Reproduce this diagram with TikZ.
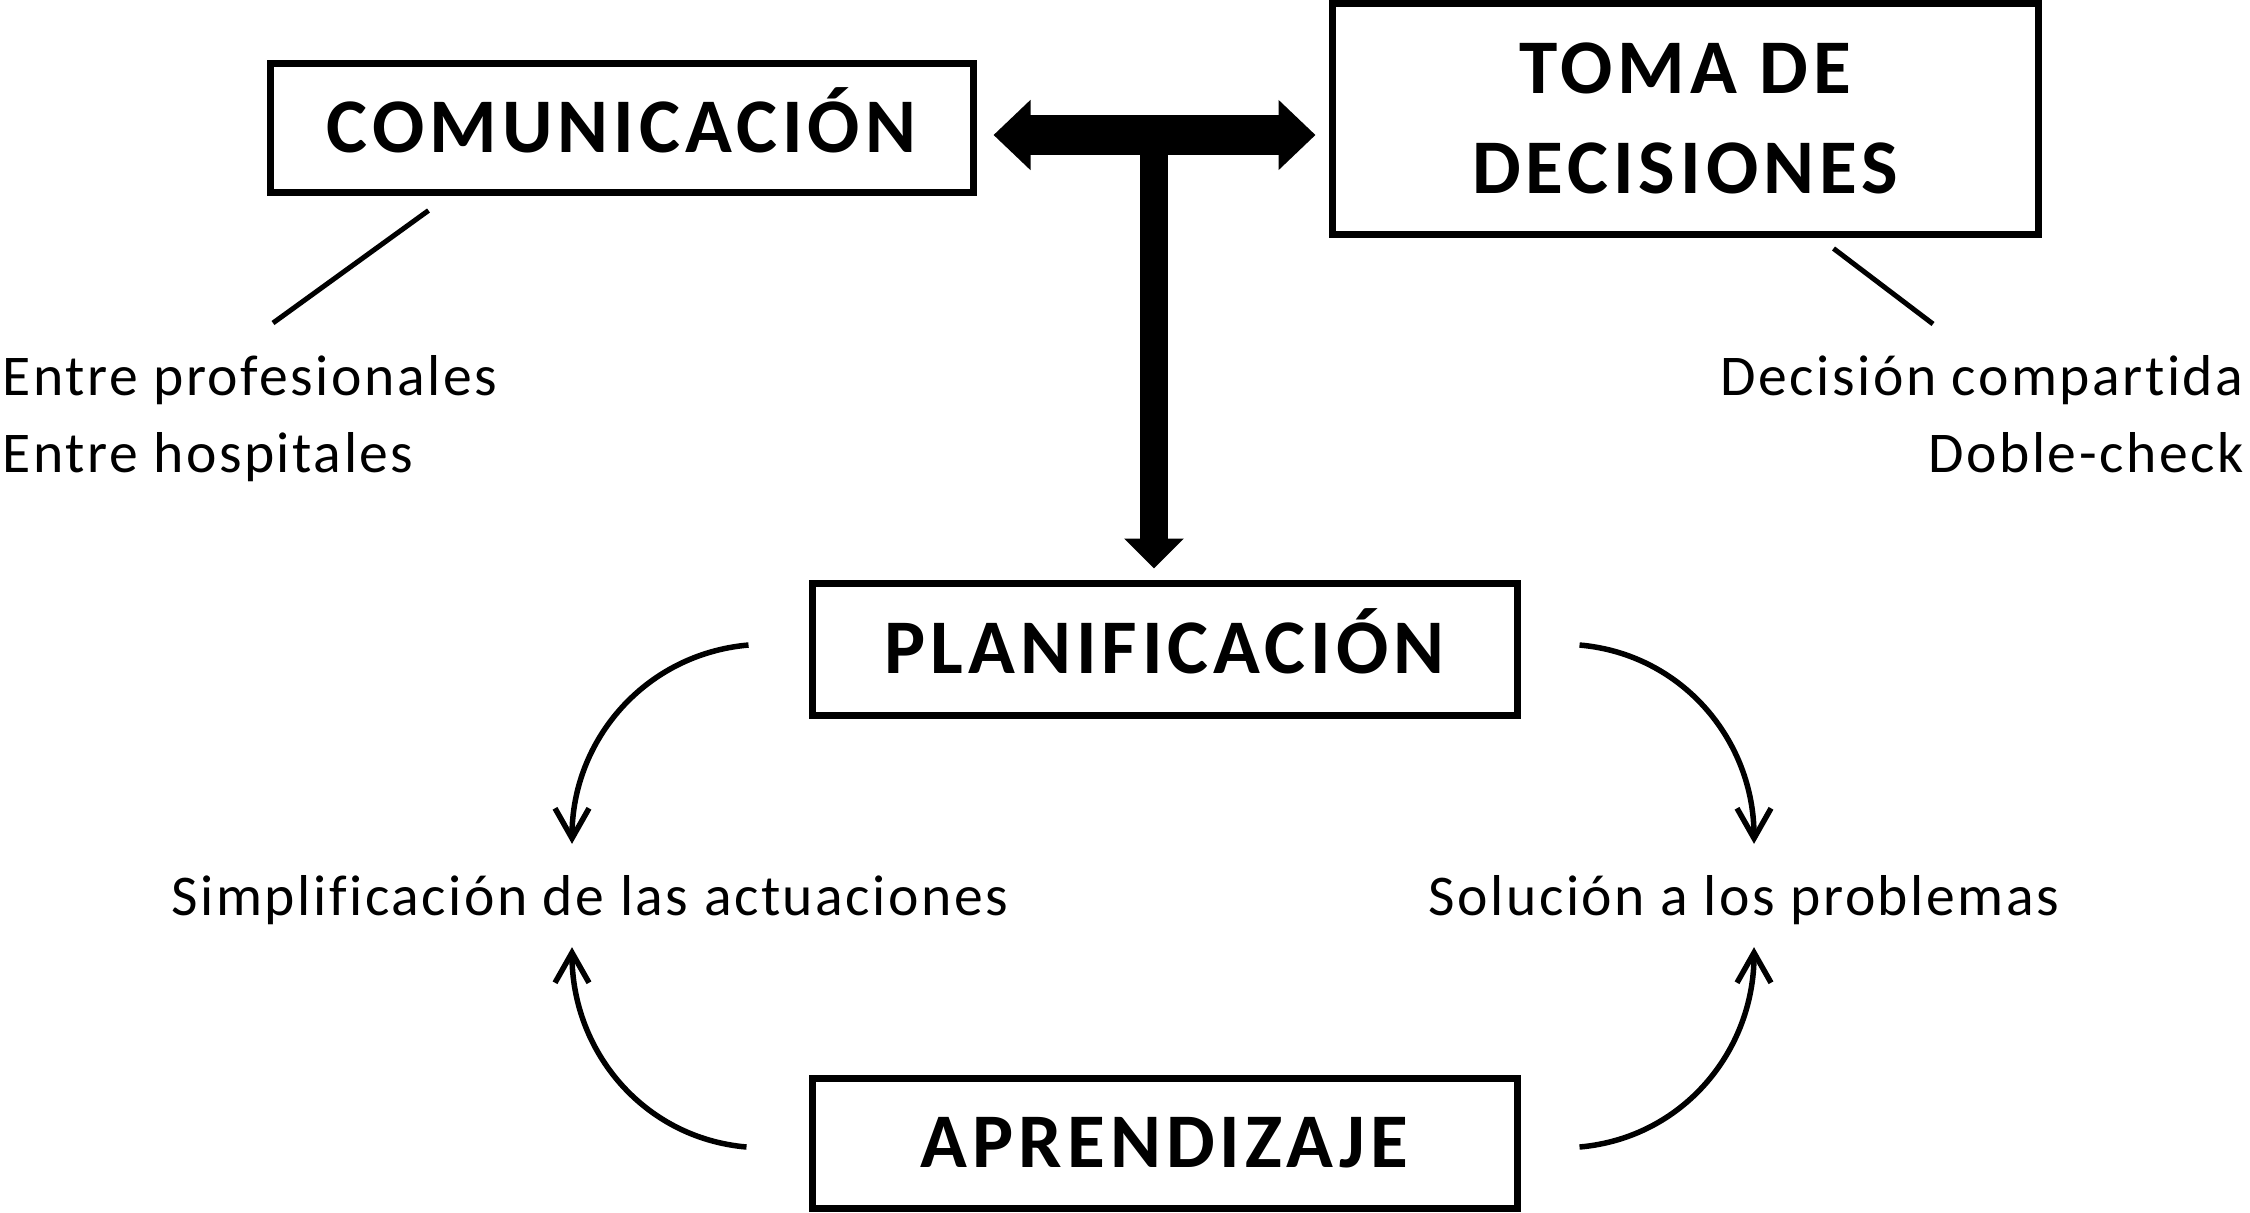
\documentclass[tikz,border=0pt]{standalone}
\usepackage{fontspec}
\setmainfont{Carlito}[LetterSpace=4.4, Ligatures=NoCommon]
\usetikzlibrary{arrows.meta, calc}
\tikzset{
  every picture/.style={line width=0.05cm},
  box/.style={draw, line width=0.07cm, align=center, inner sep=0pt, font=\fontsize{22}{28.5}\selectfont\bfseries\addfontfeatures{LetterSpace=6.5}},
  oneline/.style={text height=0.49cm, text depth=0pt},
  note/.style={inner sep=0pt, font=\fontsize{16.4}{21.9}\selectfont},
  bigarrow/.style={line width=0.4cm, {Triangle[length=0.37cm, width=0.68cm]}-{Triangle[length=0.37cm, width=0.68cm]}},
  stemarrow/.style={line width=0.28cm, -{Triangle[length=0.3cm, width=0.58cm]}},
  curvearrow/.style={line width=0.055cm, -{Straight Barb[length=0.3cm, width=0.34cm]}},
  pointer/.style={line width=0.05cm},
}
\begin{document}
\begin{tikzpicture}
  \useasboundingbox (0,0) rectangle (22.5,-12.12);
  \node[box, oneline, minimum width=7.03cm, minimum height=1.29cm] (com) at (6.215,-1.275) {COMUNICACIÓN};
  \node[box, minimum width=7.06cm, minimum height=2.31cm] (toma) at (16.85,-1.185) {TOMA DE\\DECISIONES};
  \node[box, oneline, minimum width=7.05cm, minimum height=1.32cm] (plan) at (11.645,-6.49) {PLANIFICACIÓN};
  \node[box, oneline, minimum width=7.05cm, minimum height=1.30cm] (apren) at (11.645,-11.43) {APRENDIZAJE};
  % the T that joins the two top boxes and feeds the plan
  \coordinate (junc) at (11.54,-1.35);
  \draw[bigarrow] ($(com.east |- junc)+(0.17,0)$) -- ($(toma.west |- junc)+(-0.13,0)$);
  \draw[stemarrow] (junc) -- ($(junc |- plan.north)+(0,0.11)$);
  % what each top box covers
  \node[note, anchor=north west, align=left] (comsub) at (0,-3.53) {Entre profesionales\\Entre hospitales};
  \node[note, anchor=north east, align=right] (decsub) at (22.46,-3.53) {Decisión compartida\\Doble-check};
  \draw[pointer] ($(com.south west)+(1.62,-0.15)$) -- ($(comsub.north west)+(2.73,0.30)$);
  \draw[pointer] ($(toma.south west)+(5.05,-0.11)$) -- ($(decsub.north east)+(-3.13,0.29)$);
  % the loop between plan and learning
  \node[note] (simp) at (5.9,-9.0) {Simplificación de las actuaciones};
  \node[note] (sol) at (17.44,-9.0) {Solución a los problemas};
  \draw[curvearrow] ($(plan.west)+(-0.6,0.04)$) to[out=185, in=90] ($(simp.north)+(-0.18,0.29)$);
  \draw[curvearrow] ($(apren.west)+(-0.62,-0.04)$) to[out=175, in=-90] ($(simp.south)+(-0.18,-0.2)$);
  \draw[curvearrow] ($(plan.east)+(0.59,0.04)$) to[out=-5, in=90] ($(sol.north)+(0.1,0.29)$);
  \draw[curvearrow] ($(apren.east)+(0.59,-0.04)$) to[out=5, in=-90] ($(sol.south)+(0.1,-0.2)$);
\end{tikzpicture}
\end{document}
